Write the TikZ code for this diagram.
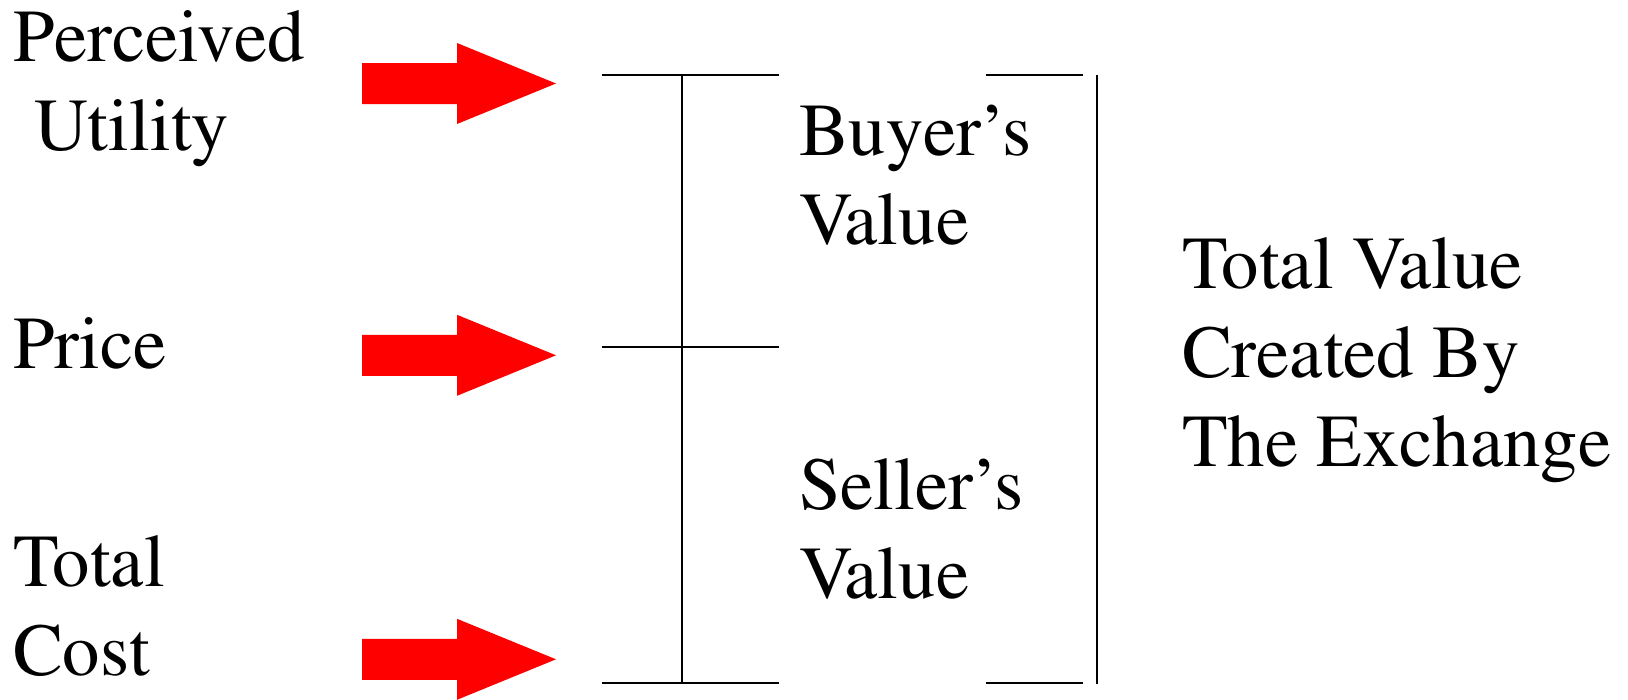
\documentclass[tikz,border=0pt]{standalone}
\usepackage[T1]{fontenc}
\usepackage{times}
\begin{document}
\begin{tikzpicture}[x=1pt,y=-1pt,
  lbl/.style={anchor=base west,inner sep=0pt,outer sep=0pt,align=left,font=\rmfamily\fontsize{74.7}{89}\selectfont},
  rule/.style={line width=1.8pt,black,line cap=butt},
  blockarrow/.pic={\fill[red] (0,-20.5) -- (95,-20.5) -- (95,-40.5) -- (194,0) -- (95,40.5) -- (95,20.5) -- (0,20.5) -- cycle;}]
\useasboundingbox (0,0) rectangle (1628,699);
% text (base anchor = baseline of the last line)
\node[lbl] (pu) at (13,150) {Perceived\\\hspace*{21pt}Utility};
\node[lbl] (pr) at (13,368) {Price};
\node[lbl] (tc) at (13,675) {Total\\Cost};
\node[lbl] (bv) at (799,244) {Buyer's\\Value};
\node[lbl] (sv) at (799,598) {Seller's\\Value};
\node[lbl] (tv) at (1182,466) {Total Value\\Created By\\The Exchange};
% arrows
\pic (a1) at (362,83.5) {blockarrow};
\pic (a2) at (362,355.3) {blockarrow};
\pic (a3) at (362,659.3) {blockarrow};
% left bracket
\coordinate (ut) at (602,75);
\coordinate (ute) at (779,75);
\coordinate (pm) at (602,347);
\coordinate (pme) at (779,347);
\coordinate (cb) at (602,683);
\coordinate (cbe) at (779,683);
\coordinate (vt) at (682,75);
\coordinate (vb) at (682,683);
\draw[rule] (ut) -- (ute);
\draw[rule] (pm) -- (pme);
\draw[rule] (cb) -- (cbe);
\draw[rule] (vt) -- (vb);
% right bracket
\coordinate (rt) at (986,75);
\coordinate (rte) at (1083,75);
\coordinate (rb) at (986,683);
\coordinate (rbe) at (1083,683);
\coordinate (rvt) at (1097,75);
\coordinate (rvb) at (1097,684);
\draw[rule] (rt) -- (rte);
\draw[rule] (rb) -- (rbe);
\draw[rule] (rvt) -- (rvb);
\end{tikzpicture}
\end{document}
